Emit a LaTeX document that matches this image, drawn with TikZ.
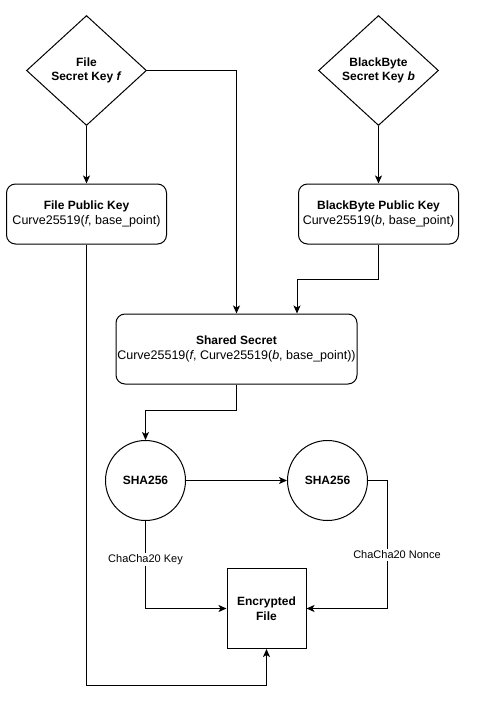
\documentclass[tikz,border=0pt]{standalone}
\usepackage{fontspec}
\setmainfont{Liberation Sans}
\usetikzlibrary{shapes.geometric,arrows.meta}
\newcommand{\regtxt}[1]{{\fontsize{12.5}{14.5}\selectfont #1}}
\begin{document}
\begin{tikzpicture}[x=1pt,y=-1pt,
  every node/.style={font=\fontsize{12}{14.5}\selectfont, align=center, inner sep=0pt},
  dia/.style={draw, line width=1pt, shape=diamond, aspect=1.09, minimum width=120pt, minimum height=110pt},
  rbox/.style={draw, line width=1pt, rounded corners=9pt, minimum width=160pt, minimum height=60pt},
  circ/.style={draw, line width=1pt, circle, minimum size=80pt},
  sbox/.style={draw, line width=1pt, minimum width=79pt, minimum height=80pt},
  arr/.style={line width=1pt, -{Stealth[length=8pt,width=7pt,inset=2pt]}},
  lbl/.style={fill=white, inner sep=1.5pt, font=\fontsize{11}{13}\selectfont}
]
\useasboundingbox (0,0) rectangle (479,701);
\node[dia] (fsk) at (86.5,70.5) {\textbf{File}\\\textbf{Secret Key \textit{f}}};
\node[dia] (bsk) at (378.5,70.5) {\textbf{BlackByte}\\\textbf{Secret Key \textit{b}}};
\node[rbox] (fpk) at (86.5,214) {\textbf{File Public Key}\\\regtxt{Curve25519(\textit{f}, base\_point)}};
\node[rbox] (bpk) at (378.5,214) {\textbf{BlackByte Public Key}\\\regtxt{Curve25519(\textit{b}, base\_point)}};
\node[rbox, minimum width=241pt, minimum height=70pt] (ss) at (236.5,349) {\textbf{Shared Secret}\\\regtxt{Curve25519(\textit{f}, Curve25519(\textit{b}, base\_point))}};
\node[circ] (sha1) at (145.5,480.5) {\textbf{SHA256}};
\node[circ] (sha2) at (327.5,480.5) {\textbf{SHA256}};
\node[sbox] (enc) at (266.5,608.5) {\textbf{Encrypted}\\\textbf{File}};
\coordinate (bend) at (86.5,685.5);

\draw[arr] (fsk.south) -- (fpk.north);
\draw[arr] (bsk.south) -- (bpk.north);
\draw[arr] (fsk.east) -| (ss.north);
\draw[arr] (bpk.south) -- ++(0,35) -| ([xshift=60.5pt]ss.north);
\draw[arr] (ss.south) -- ++(0,26) -| (sha1.north);
\draw[arr] (sha1.east) -- (sha2.west);
\draw[arr] (sha1.south) |- node[lbl, pos=0.22] {ChaCha20 Key} (enc.west);
\draw[arr] (sha2.east) -- ++(19,0) |- (enc.east);
\node[lbl] (nonce) at (397,555) {ChaCha20 Nonce};
\draw[arr] (fpk.south) -- (bend) -| (enc.south);
\end{tikzpicture}
\end{document}
